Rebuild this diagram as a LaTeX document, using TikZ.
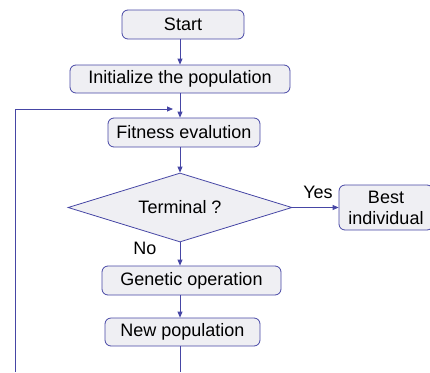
\documentclass[tikz,border=0pt]{standalone}
\usepackage{fontspec}
\setmainfont{Liberation Sans}
\usetikzlibrary{shapes.geometric,arrows.meta}
\definecolor{edge}{RGB}{70,70,165}
\definecolor{boxfill}{RGB}{239,239,243}
\begin{document}
\begin{tikzpicture}[x=1pt,y=-1pt,
  every node/.style={font=\fontsize{18}{21}\selectfont},
  box/.style={draw=edge,fill=boxfill,rounded corners=6pt,line width=0.8pt,inner sep=0pt},
  dec/.style={draw=edge,fill=boxfill,diamond,aspect=3.25,line width=0.8pt,inner sep=0pt},
  arr/.style={draw=edge,line width=0.8pt,-{Triangle[length=6pt,width=5pt]}},
  ln/.style={draw=edge,line width=0.8pt},
  lbl/.style={inner sep=0pt}]
\useasboundingbox (0,0) rectangle (430,372);
\node[box,minimum width=122pt,minimum height=29pt] (start) at (183,24.5) {Start};
\node[box,minimum width=220pt,minimum height=28pt] (init) at (180,79) {Initialize the population};
\node[box,minimum width=152pt,minimum height=29pt] (fit) at (184,132.5) {Fitness evalution};
\node[dec,minimum width=224pt,minimum height=69pt] (dia) at (180,207.5) {Terminal ?};
\node[box,minimum width=94pt,minimum height=45pt,align=center] (best) at (386,207.5) {Best\\individual};
\node[box,minimum width=179pt,minimum height=29pt] (gen) at (191.5,280.5) {Genetic operation};
\node[box,minimum width=155pt,minimum height=28pt] (newp) at (182.5,332) {New population};
\node[lbl] (yes) at (318,192) {Yes};
\node[lbl] (no) at (145,248) {No};
\coordinate (bl) at (15,372);
\coordinate (tl) at (15,109);
\coordinate (tr) at (173,109);
\coordinate (bm) at (180,372);
\draw[arr] (start.south -| dia) -- (init.north -| dia);
\draw[arr] (init.south -| dia) -- (fit.north -| dia);
\draw[arr] (fit.south -| dia) -- (dia.north);
\draw[arr] (dia.east) -- (best.west);
\draw[arr] (dia.south) -- (gen.north -| dia);
\draw[arr] (gen.south -| dia) -- (newp.north -| dia);
\draw[ln] (newp.south -| dia) -- (bm);
\draw[arr] (bl) -- (tl) -- (tr);
\end{tikzpicture}
\end{document}
